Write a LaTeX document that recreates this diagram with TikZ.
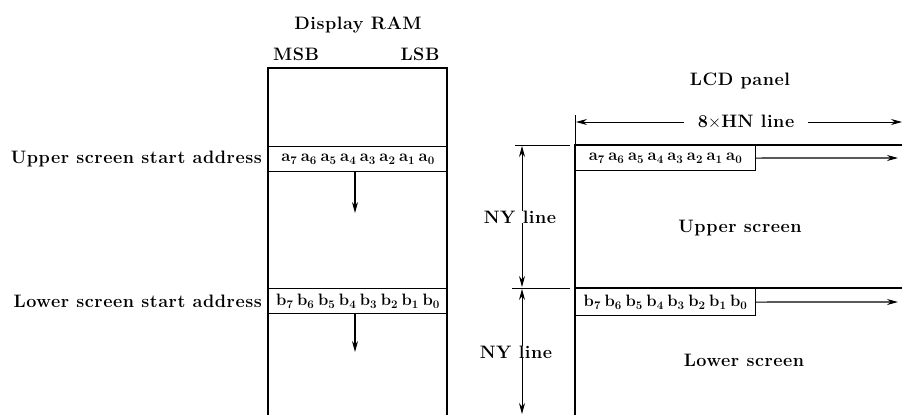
\documentclass[tikz,border=0pt]{standalone}
\usepackage{fontspec}
\setmainfont{Latin Modern Roman}[LetterSpace=3]
\newfontfamily\bitfont{Latin Modern Roman}
\usetikzlibrary{arrows.meta}
\newcommand{\bsp}{\hspace{3.6pt}}
\newcommand{\upbits}{a\textsubscript{7}\bsp a\textsubscript{6}\bsp a\textsubscript{5}\bsp a\textsubscript{4}\bsp a\textsubscript{3}\bsp a\textsubscript{2}\bsp a\textsubscript{1}\bsp a\textsubscript{0}}
\newcommand{\lowbits}{b\textsubscript{7}\bsp b\textsubscript{6}\bsp b\textsubscript{5}\bsp b\textsubscript{4}\bsp b\textsubscript{3}\bsp b\textsubscript{2}\bsp b\textsubscript{1}\bsp b\textsubscript{0}}
\begin{document}
\begin{tikzpicture}[x=1pt,y=-1pt,
  font=\bfseries\fontsize{18}{20}\selectfont,
  thickln/.style={line width=2.4pt},
  thinln/.style={line width=1.1pt},
  rowbox/.style={draw, line width=1.1pt, minimum height=25pt, inner sep=0pt, anchor=north west, font=\bitfont\bfseries\fontsize{16.5}{18}\selectfont},
  tip/.style={line width=1.1pt, -{Stealth[length=11pt,width=6pt]}},
  dim/.style={line width=0.9pt, {Stealth[length=11pt,width=6pt]}-{Stealth[length=11pt,width=6pt]}},
  lbl/.style={inner sep=1pt},
  gap/.style={fill=white, inner xsep=2pt, inner ysep=0pt}]
\useasboundingbox (0,0) rectangle (902,415);

% Display RAM
\node[lbl, anchor=base] (title) at (358,29) {Display RAM};
\node[lbl, anchor=base] (msb) at (296,60) {MSB};
\node[lbl, anchor=base] (lsb) at (420,60) {LSB};
\draw[thickln] (268,415) -- (268,68) -- (447,68) -- (447,415);

\node[rowbox, minimum width=179pt] (ua) at (268,146) {\upbits};
\node[rowbox, minimum width=179pt] (lb) at (268,288) {\lowbits};
\coordinate (uaend) at (355,213);
\coordinate (lbend) at (355,352);
\draw[tip] (ua.south -| uaend) -- (uaend);
\draw[tip] (lb.south -| lbend) -- (lbend);

\node[lbl, anchor=east] (ulab) at ([xshift=-5pt]ua.west) {Upper screen start address};
\node[lbl, anchor=east] (llab) at ([xshift=-5pt]lb.west) {Lower screen start address};

% LCD panel
\node[lbl, anchor=base] (lcd) at (740,85) {LCD panel};
\draw[thickln] (575,415) -- (575,145) -- (902,145);
\draw[thickln] (575,288) -- (902,288);
\node[rowbox, minimum width=180pt] (la) at (575,145) {\upbits};
\node[rowbox, minimum width=180pt, minimum height=27pt] (lbb) at (575,288) {\lowbits};
\coordinate (laend) at (898,158);
\coordinate (lbbend) at (898,302);
\draw[tip] (la.east) -- (laend);
\draw[tip] (lbb.east) -- (lbbend);

% 8xHN dimension
\coordinate (hl) at (576,122);
\coordinate (hr) at (902,122);
\draw[line width=0.9pt] (575,115) -- (575,145);
\draw[dim] (hl) -- (hr);
\node[gap, inner xsep=14pt, anchor=base] (hn) at (746,127) {8$\times$HN line};

% NY dimensions
\draw[line width=0.9pt] (515,145) -- (570,145);
\draw[line width=0.9pt] (512,288) -- (570,288);
\coordinate (n1t) at (522,146);
\coordinate (n1b) at (522,287);
\coordinate (n2t) at (522,289);
\coordinate (n2b) at (522,414);
\draw[dim] (n1t) -- (n1b);
\draw[dim] (n2t) -- (n2b);
\node[gap] (ny1) at (520,217) {NY line};
\node[gap] (ny2) at (516,352) {NY line};

\node[lbl] (us) at (740,228) {Upper screen};
\node[lbl] (ls) at (744,360) {Lower screen};
\end{tikzpicture}
\end{document}
